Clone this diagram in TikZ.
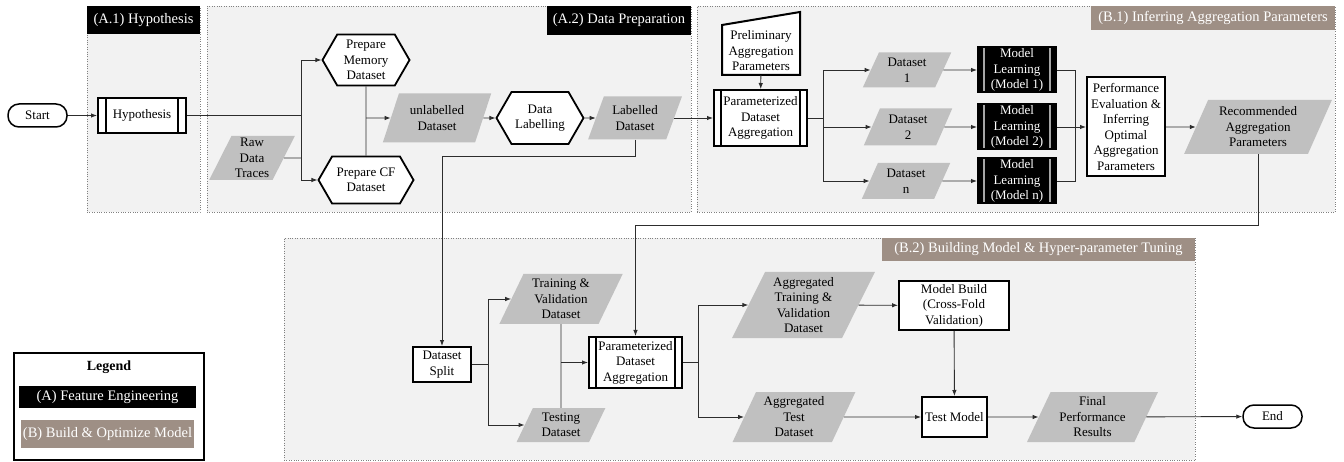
\documentclass[tikz,border=0pt]{standalone}
\usepackage{fontspec}
\setmainfont{Liberation Serif}
\usepackage{tikz}
\usetikzlibrary{positioning, arrows.meta, shapes.geometric, shapes.symbols, fit}

\definecolor{panelgray}{RGB}{242,242,242}
\definecolor{datagray}{RGB}{192,192,192}
\definecolor{taupe}{RGB}{158,143,133}
\definecolor{linegray}{RGB}{45,45,45}

\tikzset{
  base/.style={font=\fontsize{13}{15.5}\selectfont, align=center, inner sep=1pt},
  terminal/.style={base, draw, line width=1.5pt, rounded corners=11pt, fill=white, minimum width=59pt, minimum height=23pt},
  procbox/.style 2 args={base, draw, line width=2pt, fill=white, path picture={
      \draw[line width=1.3pt, #2] ([xshift=#1]path picture bounding box.north west) -- ([xshift=#1]path picture bounding box.south west);
      \draw[line width=1.3pt, #2] ([xshift=-#1]path picture bounding box.north east) -- ([xshift=-#1]path picture bounding box.south east);}},
  plainbox/.style={base, draw, line width=2pt, fill=white},
  hexbox/.style={base, shape=signal, signal to=east and west, signal pointer angle=120, draw, line width=1.8pt, fill=white, inner sep=0pt},
  databox/.style={base, trapezium, trapezium left angle=65, trapezium right angle=115, trapezium stretches=true, fill=datagray, inner sep=0pt},
  panel/.style={draw=gray, dotted, fill=panelgray, inner sep=0pt},
  titleA/.style={fill=black, text=white, font=\fontsize{14.5}{17}\selectfont, inner sep=0pt},
  titleB/.style={fill=taupe, text=white, font=\fontsize{14.5}{17}\selectfont, inner sep=0pt},
  conn/.style={line width=0.9pt, draw=linegray}
}

\begin{document}
\begin{tikzpicture}[x=1pt, y=-1pt, >={Latex[length=6pt,width=4.5pt]}]
        \useasboundingbox (0,0) rectangle (1344,462);

        % 背景分区
        \node[panel, fit={(87,6) (200,212)}] (pA1) {};
        \node[panel, fit={(207,6) (691,212)}] (pA2) {};
        \node[panel, fit={(697,6) (1335,212)}] (pB1) {};
        \node[panel, fit={(284,238) (1195,460)}] (pB2) {};
        \node[titleA, anchor=north west, minimum width=113pt, minimum height=28pt] (tA1) at (pA1.north west) {(A.1) Hypothesis};
        \node[titleA, anchor=north east, minimum width=144pt, minimum height=29pt] (tA2) at (pA2.north east) {(A.2) Data Preparation};
        \node[titleB, anchor=north east, minimum width=244pt, minimum height=24pt] (tB1) at (pB1.north east) {(B.1) Inferring Aggregation Parameters};
        \node[titleB, anchor=north east, minimum width=313pt, minimum height=23pt] (tB2) at (pB2.north east) {(B.2) Building Model \& Hyper-parameter Tuning};

        % A 部分：假设与数据准备
        \node[terminal] (start) at (37.5,115.5) {Start};
        \node[procbox={8pt}{black}, minimum width=88pt, minimum height=35pt] (hyp) at (142,115.5) {Hypothesis};
        \node[databox, minimum width=86pt, minimum height=44pt] (raw) at (252,158) {Raw\\Data\\Traces};
        \node[hexbox, minimum width=87pt, minimum height=51pt] (prepmem) at (366,60) {Prepare\\Memory\\Dataset};
        \node[hexbox, minimum width=95pt, minimum height=47pt] (prepcf) at (366,180) {Prepare CF\\Dataset};
        \node[databox, minimum width=109pt, minimum height=49pt] (unlab) at (437,118) {unlabelled\\Dataset};
        \node[hexbox, minimum width=87pt, minimum height=52pt] (dlab) at (540,118) {Data\\Labelling};
        \node[databox, minimum width=94pt, minimum height=43pt] (lab) at (635,118) {Labelled\\Dataset};
        \coordinate (j1) at (301,115.5);
        \coordinate (j2) at (366,118);

        \draw[conn, ->] (start) -- (hyp);
        \draw[conn] (hyp) -- (j1);
        \draw[conn, ->] (j1) |- (prepmem);
        \draw[conn, ->] (j1) |- (prepcf);
        \draw[conn] (raw) -- (raw -| j1);
        \draw[conn] (prepmem) -- (prepcf);
        \draw[conn, ->] (j2) -- (unlab);
        \draw[conn, ->] (unlab) -- (dlab);
        \draw[conn, ->] (dlab) -- (lab);

        % B.1 聚合参数推断
        \coordinate (prelimc) at (761,51);
        \draw[line width=2pt, fill=white] ([shift={(-39,24)}]prelimc) -- ([shift={(39,24)}]prelimc)
            -- ([shift={(39,-39)}]prelimc) -- ([shift={(-39,-26)}]prelimc) -- cycle;
        \node[base, minimum width=78pt, minimum height=48pt, inner sep=0pt] (prelim) at (prelimc) {Preliminary\\Aggregation\\Parameters};
        \node[procbox={7pt}{black}, minimum width=93pt, minimum height=56pt, inner sep=0pt] (pagg) at (760.5,118) {Parameterized\\Dataset\\Aggregation};
        \node[databox, minimum width=89pt, minimum height=35pt] (ds1) at (907,70) {Dataset\\1};
        \node[databox, minimum width=89pt, minimum height=37pt] (ds2) at (908,127) {Dataset\\2};
        \node[databox, minimum width=89pt, minimum height=36pt] (dsn) at (906,181) {Dataset\\n};
        \node[procbox={6pt}{gray!70}, fill=black, text=white, minimum width=78pt, minimum height=45pt, inner sep=0pt] (ml1) at (1017,70) {Model\\Learning\\(Model 1)};
        \node[procbox={6pt}{gray!70}, fill=black, text=white, minimum width=78pt, minimum height=45pt, inner sep=0pt] (ml2) at (1017,127) {Model\\Learning\\(Model 2)};
        \node[procbox={6pt}{gray!70}, fill=black, text=white, minimum width=78pt, minimum height=45pt, inner sep=0pt] (mln) at (1017,181) {Model\\Learning\\(Model n)};
        \node[plainbox, minimum width=78pt, minimum height=99pt, inner sep=0pt] (perf) at (1126,127) {Performance\\Evaluation \&\\Inferring\\Optimal\\Aggregation\\Parameters};
        \node[databox, minimum width=148pt, minimum height=54pt] (rec) at (1258,127) {Recommended\\Aggregation\\Parameters};
        \coordinate (j3) at (823,118);
        \coordinate (j4) at (1075,127);

        \draw[conn, ->] (lab) -- (pagg);
        \draw[conn, ->] (prelim) -- (pagg);
        \draw[conn] (pagg) -- (j3);
        \draw[conn, ->] (j3) |- (ds1);
        \draw[conn, ->] (j3) |- (ds2);
        \draw[conn, ->] (j3) |- (dsn);
        \draw[conn, ->] (ds1) -- (ml1);
        \draw[conn, ->] (ds2) -- (ml2);
        \draw[conn, ->] (dsn) -- (mln);
        \draw[conn] (ml1) -| (j4);
        \draw[conn] (mln) -| (j4);
        \draw[conn, ->] (ml2) -- (perf);
        \draw[conn, ->] (perf) -- (rec);

        % B.2 建模与超参数调优
        \node[plainbox, minimum width=58pt, minimum height=35pt, inner sep=0pt] (split) at (442,364.5) {Dataset\\Split};
        \node[databox, minimum width=124pt, minimum height=50pt] (trainval) at (561,299) {Training \&\\Validation\\Dataset};
        \node[databox, minimum width=89pt, minimum height=34pt] (testing) at (561,425) {Testing\\Dataset};
        \node[procbox={7pt}{black}, minimum width=93pt, minimum height=51pt, inner sep=0pt] (pagg2) at (635.5,362.5) {Parameterized\\Dataset\\Aggregation};
        \node[databox, minimum width=143pt, minimum height=66pt] (aggtrain) at (803.5,305) {Aggregated\\Training \&\\Validation\\Dataset};
        \node[databox, minimum width=124pt, minimum height=50pt] (aggtest) at (794,417) {Aggregated\\Test\\Dataset};
        \node[plainbox, minimum width=110pt, minimum height=49pt, inner sep=0pt] (mbuild) at (954,305.5) {Model Build\\(Cross-Fold\\Validation)};
        \node[plainbox, minimum width=65pt, minimum height=40pt, inner sep=0pt] (testm) at (954.5,417) {Test Model};
        \node[databox, minimum width=131pt, minimum height=50pt] (final) at (1092.5,417) {Final\\Performance\\Results};
        \node[terminal] (end) at (1272.5,416.5) {End};
        \coordinate (j5) at (488,364.5);
        \coordinate (j6) at (561,362.5);
        \coordinate (j7) at (698,362.5);

        \draw[conn, ->] (lab.south) -- ++(0,17) -| (split);
        \draw[conn, ->] (rec.south) -- ++(0,71) -| (pagg2);
        \draw[conn] (split) -- (j5);
        \draw[conn, ->] (j5) |- (trainval);
        \draw[conn, ->] (j5) |- (testing);
        \draw[conn] (trainval) -- (testing);
        \draw[conn, ->] (j6) -- (pagg2);
        \draw[conn] (pagg2) -- (j7);
        \draw[conn, ->] (j7) |- (aggtrain);
        \draw[conn, ->] (j7) |- (aggtest);
        \draw[conn, ->] (aggtrain) -- (mbuild);
        \draw[conn, ->] (mbuild) -- (testm);
        \draw[conn, ->] (aggtest) -- (testm);
        \draw[conn, ->] (testm) -- (final);
        \draw[conn, ->] (final) -- (end);

        % 图例
        \node[draw, line width=1.5pt, fill=white, fit={(14,353) (204,460)}, inner sep=0pt] (legend) {};
        \node[font=\bfseries\fontsize{14}{16}\selectfont] (legtitle) at (109,367) {Legend};
        \node[titleA, minimum width=177pt, minimum height=22pt] (legA) at (107.5,397) {(A) Feature Engineering};
        \node[titleB, minimum width=173pt, minimum height=28pt] (legB) at (107.5,434) {(B) Build \& Optimize Model};

    \end{tikzpicture}
\end{document}
